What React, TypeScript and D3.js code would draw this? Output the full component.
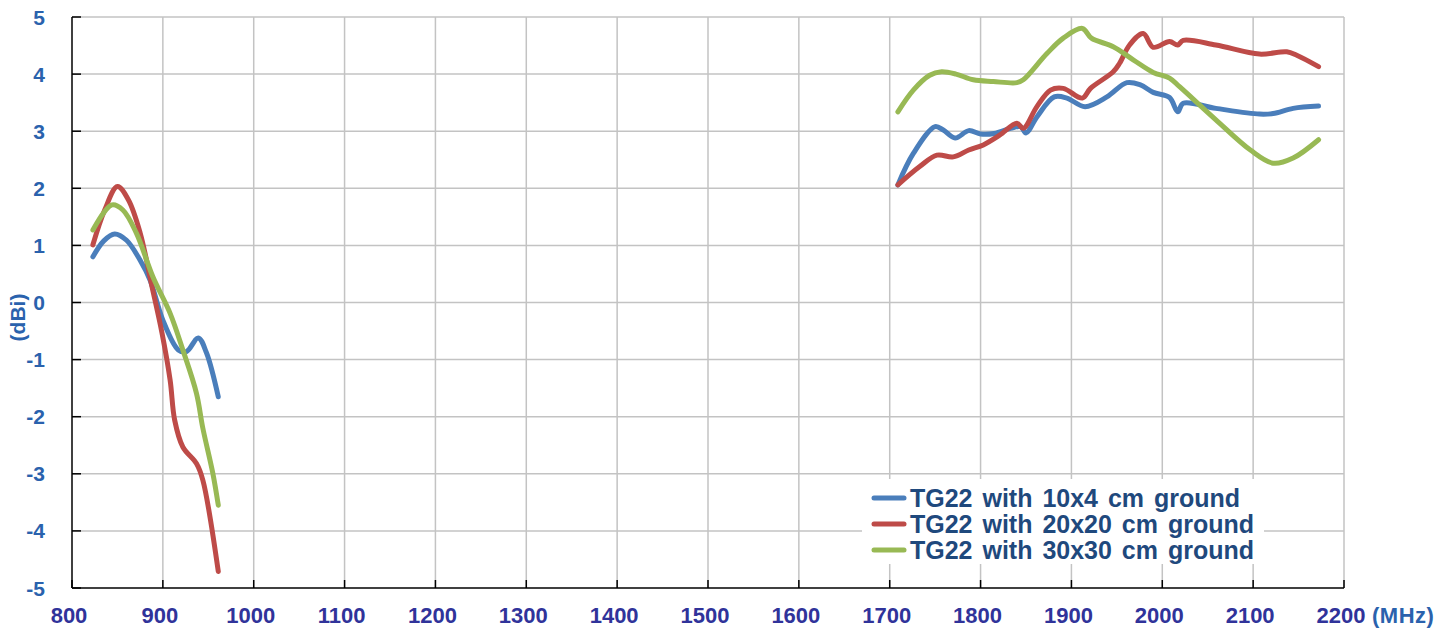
import * as d3 from "d3";

// frequency (MHz), gain (dBi)
const blueLow: [number, number][] = [
  [823, 0.8], [835, 1.08], [847, 1.2], [860, 1.09], [875, 0.74], [886, 0.39],
  [900, -0.31], [917, -0.83], [926, -0.86], [939, -0.62], [948, -0.88], [961, -1.65],
];
const redLow: [number, number][] = [
  [823, 1.01], [836, 1.62], [850, 2.03], [862, 1.8], [875, 1.22], [888, 0.28],
  [899, -0.53], [908, -1.36], [913, -2.06], [922, -2.53], [937, -2.82], [944, -3.11], [961, -4.71],
];
const greenLow: [number, number][] = [
  [823, 1.27], [844, 1.71], [856, 1.62], [871, 1.21], [889, 0.45], [908, -0.19],
  [922, -0.83], [937, -1.59], [944, -2.2], [955, -2.99], [961, -3.55],
];
const blueHigh: [number, number][] = [
  [1709, 2.06], [1726, 2.61], [1750, 3.08], [1759, 3.02], [1772, 2.88], [1787, 3.01],
  [1800, 2.95], [1815, 2.96], [1833, 3.05], [1844, 3.08], [1850, 2.97], [1862, 3.25],
  [1881, 3.6], [1895, 3.58], [1915, 3.43], [1939, 3.6], [1961, 3.85], [1976, 3.81],
  [1990, 3.68], [2008, 3.59], [2017, 3.34], [2023, 3.49], [2059, 3.4], [2107, 3.3],
  [2122, 3.31], [2144, 3.4], [2172, 3.44],
];
const redHigh: [number, number][] = [
  [1709, 2.06], [1733, 2.38], [1752, 2.58], [1770, 2.55], [1787, 2.67], [1803, 2.76],
  [1821, 2.93], [1840, 3.14], [1847, 3.05], [1862, 3.43], [1877, 3.72], [1891, 3.75],
  [1912, 3.58], [1921, 3.75], [1946, 4.04], [1953, 4.19], [1964, 4.51], [1979, 4.71],
  [1990, 4.47], [2008, 4.57], [2017, 4.51], [2023, 4.59], [2059, 4.51], [2107, 4.35],
  [2137, 4.39], [2148, 4.33], [2172, 4.13],
];
const greenHigh: [number, number][] = [
  [1709, 3.34], [1726, 3.72], [1744, 3.98], [1757, 4.04], [1773, 4.0], [1792, 3.9],
  [1814, 3.87], [1840, 3.85], [1847, 3.9], [1873, 4.36], [1891, 4.63], [1912, 4.8],
  [1922, 4.63], [1946, 4.48], [1968, 4.25], [1990, 4.03], [2008, 3.93], [2019, 3.78],
  [2059, 3.2], [2097, 2.67], [2122, 2.44], [2144, 2.53], [2172, 2.85],
];

const seriesNames = [
  "TG22 with 10x4 cm ground",
  "TG22 with 20x20 cm ground",
  "TG22 with 30x30 cm ground",
];
const seriesColors = ["#4a7ebb", "#be4b48", "#98b954"];
const seriesData = [
  [blueLow, blueHigh],
  [redLow, redHigh],
  [greenLow, greenHigh],
];

const xTicks = d3.range(800, 2201, 100);
const yTicks = d3.range(-5, 6, 1);

const App = () => {
  const width = 1446;
  const height = 631;
  const plotLeft = 72;
  const plotRight = 1344;
  const plotTop = 17;
  const plotBottom = 588;
  const font = "'Liberation Sans', Arial, sans-serif";

  const x = d3.scaleLinear([800, 2200], [plotLeft, plotRight]);
  const y = d3.scaleLinear([-5, 5], [plotBottom, plotTop]);
  const line = d3
    .line<[number, number]>((d) => x(d[0]), (d) => y(d[1]))
    .curve(d3.curveCatmullRom.alpha(0.5));

  const left = x(800);
  const right = x(2200);
  const top = y(5);
  const bottom = y(-5);

  return (
    <svg
      width={width}
      height={height}
      style={{ position: "absolute", left: 0, top: 0, background: "#fff" }}
    >
      {/* grid */}
      <g stroke="#c3c3c3" strokeWidth={1.5}>
        {xTicks.slice(1).map((t) => (
          <line key={t} x1={x(t)} x2={x(t)} y1={top} y2={bottom} />
        ))}
        {yTicks.slice(1).map((t) => (
          <line key={t} x1={left} x2={right} y1={y(t)} y2={y(t)} />
        ))}
      </g>

      {/* axes */}
      <g stroke="#000" strokeWidth={1.5}>
        <line x1={left} x2={left} y1={top} y2={bottom} />
        <line x1={left} x2={right} y1={bottom} y2={bottom} />
        {yTicks.map((t) => (
          <line key={t} x1={left} x2={left + 9} y1={y(t)} y2={y(t)} />
        ))}
        {xTicks.map((t) => (
          <line key={t} x1={x(t)} x2={x(t)} y1={bottom} y2={bottom - 8} />
        ))}
      </g>

      {/* y labels */}
      <g fontFamily={font} fontWeight="bold" fontSize={21} fill="#2a62ad" textAnchor="end">
        {yTicks.map((t) => (
          <text key={t} x={left - 27} y={y(t)} dy="0.36em">
            {t}
          </text>
        ))}
      </g>
      <text
        transform={`translate(25, ${(top + bottom) / 2 + 15}) rotate(-90)`}
        fontFamily={font}
        fontWeight="bold"
        fontSize={21}
        fill="#2a62ad"
        textAnchor="middle"
      >
        (dBi)
      </text>

      {/* x labels */}
      <g fontFamily={font} fontWeight="bold" fontSize={22} fill="#30339a" textAnchor="middle">
        {xTicks.map((t) => (
          <text key={t} x={x(t) - 3} y={bottom + 35}>
            {t}
          </text>
        ))}
      </g>
      <text
        x={1372}
        y={bottom + 35}
        fontFamily={font}
        fontWeight="bold"
        fontSize={22}
        fill="#2a62ad"
        letterSpacing={0.5}
      >
        (MHz)
      </text>

      {/* series */}
      <g fill="none" strokeWidth={5} strokeLinecap="round" strokeLinejoin="round">
        {seriesData.map((parts, i) =>
          parts.map((p, j) => (
            <path key={`${i}-${j}`} d={line(p)!} stroke={seriesColors[i]} />
          ))
        )}
      </g>

      {/* legend */}
      <rect x={862} y={479} width={402} height={85} fill="#fff" />
      <g fontFamily={font} fontWeight="bold" fontSize={25} fill="#1f497d" wordSpacing={3}>
        {seriesNames.map((name, i) => (
          <g key={name} transform={`translate(874, ${498 + i * 26})`}>
            <line x1={0} x2={30} y1={0} y2={0} stroke={seriesColors[i]} strokeWidth={5} strokeLinecap="round" />
            <text x={36} y={0} dy="0.36em">
              {name}
            </text>
          </g>
        ))}
      </g>
    </svg>
  );
};

export default App;
